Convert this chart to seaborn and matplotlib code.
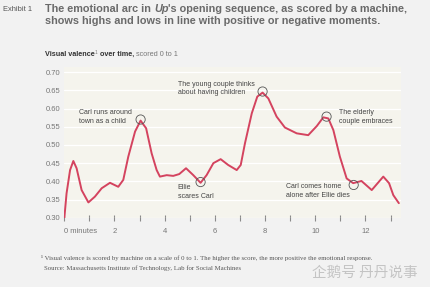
import matplotlib
matplotlib.use('Agg')
import matplotlib.pyplot as plt
import seaborn as sns
import pandas as pd

# valence curve (minutes, score)
minutes = [0.00, 0.09, 0.23, 0.36, 0.49, 0.69, 0.96, 1.22, 1.49, 1.82, 2.15, 2.35, 2.55,
           2.82, 3.04, 3.26, 3.48, 3.68, 3.81, 4.08, 4.34, 4.58, 4.85, 5.14, 5.43, 5.67,
           5.94, 6.23, 6.53, 6.87, 7.03, 7.20, 7.47, 7.69, 7.90, 8.13, 8.46, 8.79, 9.26,
           9.72, 10.06, 10.32, 10.52, 10.72, 10.98, 11.25, 11.51, 11.84, 12.25, 12.71,
           12.94, 13.11, 13.33]
valence = [0.298, 0.367, 0.431, 0.456, 0.436, 0.376, 0.342, 0.358, 0.381, 0.396, 0.385,
           0.404, 0.468, 0.537, 0.567, 0.546, 0.477, 0.431, 0.413, 0.417, 0.415, 0.420,
           0.436, 0.417, 0.396, 0.417, 0.450, 0.461, 0.445, 0.431, 0.445, 0.505, 0.587,
           0.633, 0.644, 0.628, 0.578, 0.548, 0.532, 0.527, 0.552, 0.576, 0.573, 0.541,
           0.468, 0.408, 0.395, 0.401, 0.376, 0.413, 0.395, 0.362, 0.340]

moment_min = [3.04, 5.43, 7.90, 10.45, 11.53]
moment_val = [0.570, 0.398, 0.647, 0.578, 0.390]
moment_text = ['Carl runs around\ntown as a child',
               'Ellie\nscares Carl',
               'The young couple thinks\nabout having children',
               'The elderly\ncouple embraces',
               'Carl comes home\nalone after Ellie dies']
# where each label's top-left corner sits (minutes, score)
label_pos = [(0.59, 0.598), (4.52, 0.392), (4.52, 0.676), (10.94, 0.598), (8.83, 0.395)]

y_ticks = [0.30, 0.35, 0.40, 0.45, 0.50, 0.55, 0.60, 0.65, 0.70]
x_ticks = list(range(14))
x_labels = ['0 minutes', '', '2', '', '4', '', '6', '', '8', '', '10', '', '12', '']

df = pd.DataFrame({'minute': minutes, 'valence': valence})
moments = pd.DataFrame({'minute': moment_min, 'valence': moment_val})

sns.set_theme(style='white')
plt.rcParams['font.family'] = ['Liberation Sans', 'DejaVu Sans']

W, H = 430, 287
fig = plt.figure(figsize=(W / 100, H / 100), dpi=100, facecolor='#f2f2f2')
ax = fig.add_axes([64.3 / W, 1 - 217.7 / H, 336.3 / W, 150.9 / H])
ax.set_facecolor('#f5f4ed')

sns.lineplot(data=df, x='minute', y='valence', ax=ax, color='#d4435f', lw=1.4,
             sort=False, zorder=3)
sns.scatterplot(data=moments, x='minute', y='valence', ax=ax, s=44, facecolor='none',
                edgecolor='#555555', linewidth=0.6, zorder=4)

for txt, (tx, ty) in zip(moment_text, label_pos):
    ax.text(tx, ty, txt, ha='left', va='top', fontsize=5.0, color='#444444',
            linespacing=1.3)

ax.set_xlim(0, 13.4)
ax.set_ylim(0.30, 0.715)
ax.set_yticks(y_ticks)
ax.set_yticklabels([f'{v:.2f}' for v in y_ticks])
ax.set_xticks(x_ticks)
ax.set_xticklabels(x_labels)
ax.set_xlabel('')
ax.set_ylabel('')
ax.yaxis.grid(True, color='white', lw=0.9)
ax.xaxis.grid(False)
for s in ax.spines.values():
    s.set_visible(False)
ax.tick_params(axis='y', length=0, pad=3, labelsize=5.5, labelcolor='#777777')
ax.tick_params(axis='x', length=5, direction='inout', width=0.8, color='#8a8a8a',
               pad=5, labelsize=5.5, labelcolor='#777777', bottom=True)
first = ax.get_xticklabels()[0]
first.set_ha('left')
first.set_x(-0.05)

renderer = fig.canvas.get_renderer()


def draw_runs(x, y, runs):
    # place text pieces one after another on a line (figure pixels, top-left)
    px = x
    for text, kw in runs:
        dy = kw.pop('dy', 0)
        t = fig.text(px / W, 1 - (y + dy) / H, text, ha='left', va='top', **kw)
        px += t.get_window_extent(renderer).width


title_kw = dict(fontsize=7.8, fontweight='bold', color='#6a6a6a')
fig.text(3 / W, 1 - 6 / H, 'Exhibit 1', ha='left', va='top', fontsize=5.4,
         color='#555555')
draw_runs(45, 4, [('The emotional arc in ', dict(title_kw)),
                  ('Up', dict(title_kw, fontstyle='italic')),
                  ("'s opening sequence, as scored by a machine,", dict(title_kw))])
fig.text(45 / W, 1 - 15.8 / H,
         'shows highs and lows in line with positive or negative moments.',
         ha='left', va='top', **title_kw)

sub_kw = dict(fontsize=5.2, color='#333333')
draw_runs(45, 51, [('Visual valence', dict(sub_kw, fontweight='bold')),
                   ('1', dict(sub_kw, fontsize=3.4, dy=-1, color='#777777')),
                   (' over time,', dict(sub_kw, fontweight='bold')),
                   (' scored 0 to 1', dict(sub_kw, color='#777777'))])

foot_kw = dict(fontsize=4.9, color='#555555', family='Liberation Serif',
               ha='left', va='top')
fig.text(41 / W, 1 - 255 / H,
         '\u00b9 Visual valence is scored by machine on a scale of 0 to 1. '
         'The higher the score, the more positive the emotional response.', **foot_kw)
fig.text(43.5 / W, 1 - 265.5 / H,
         'Source: Massachusetts Institute of Technology, Lab for Social Machines',
         **foot_kw)

fig.text(312 / W, 1 - 273 / H, '企鹅号 丹丹说事', ha='left', va='center',
         fontsize=10.5, color='#c4c4c4', family=['Noto Sans CJK SC', 'DejaVu Sans'])

fig.savefig('out.png', dpi=100, facecolor=fig.get_facecolor())
